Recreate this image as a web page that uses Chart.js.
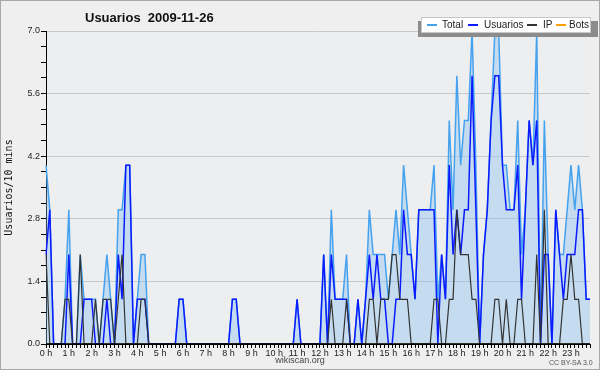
<!DOCTYPE html>
<html>
<head>
<meta charset="utf-8">
<script src="https://cdn.jsdelivr.net/npm/chart.js@4"></script>
<style>
  body { margin: 0; background: #efefef; font-family: 'Liberation Sans', Arial, sans-serif; }
  #wrap { position: relative; width: 600px; height: 370px; }
  #frame { position: absolute; left: 0; top: 0; width: 598px; height: 368px; border: 1px solid #a8a8a8; pointer-events: none; }
  #title { position: absolute; left: 85px; top: 11px; font-weight: bold; font-size: 13px; line-height: 13px; color: #111; white-space: pre; }
  #legendShadow { position: absolute; left: 418px; top: 21px; width: 180px; height: 16px; background: #8c8c8c; }
  #legend { position: absolute; left: 421px; top: 17px; width: 168px; height: 14px; background: #fff; border: 1px solid #c8c8c8; }
  #legend .sw { position: absolute; top: 6px; width: 10px; height: 2px; }
  #legend .tx { position: absolute; top: 2px; font-size: 10px; line-height: 10px; color: #222; white-space: nowrap; }
  #site { position: absolute; left: 0; width: 600px; top: 356px; text-align: center; font-size: 9px; line-height: 9px; color: #444; }
  #lic { position: absolute; left: 549px; top: 359px; font-size: 7px; line-height: 7px; color: #555; }
</style>
</head>
<body>
<div id="wrap">
  <canvas id="usersChart"></canvas>
  <div id="title">Usuarios  2009-11-26</div>
  <div id="legendShadow"></div>
  <div id="legend"></div>
  <div id="site">wikiscan.org</div>
  <div id="lic">CC BY-SA 3.0</div>
  <div id="frame"></div>
</div>
<script>
// 10-minute slots over the day, hour tick labels
const hourLabels = ['0 h','1 h','2 h','3 h','4 h','5 h','6 h','7 h','8 h','9 h','10 h','11 h',
                    '12 h','13 h','14 h','15 h','16 h','17 h','18 h','19 h','20 h','21 h','22 h','23 h'];
const slots = [];
for (let h = 0; h < 24; h++) {
    for (let m = 0; m < 60; m += 10) slots.push(h + ':' + String(m).padStart(2, '0'));
}

const total = [
    4,3,0,0,0,1, 3,0,0,2,1,1, 1,1,0,1,2,1, 0,3,3,4,4,0, 1,2,2,0,0,0,
    0,0,0,0,0,1, 1,0,0,0,0,0, 0,0,0,0,0,0, 0,1,1,0,0,0, 0,0,0,0,0,0,
    0,0,0,0,0,0, 1,0,0,0,0,0, 0,2,0,3,1,1, 1,2,0,0,1,0, 1,3,2,2,2,2,
    1,2,3,2,4,3, 2,1,3,3,3,3, 4,1,2,1,5,3, 6,4,5,5,7,4, 0,2,3,5,7,7,
    4,4,3,3,5,2, 3,5,4,7,0,5, 2,0,3,2,2,3, 4,3,4,3,1,1
];
const usuarios = [
    2,3,0,0,0,0, 2,0,0,0,1,1, 1,0,0,0,1,0, 0,2,1,4,4,0, 1,1,1,0,0,0,
    0,0,0,0,0,1, 1,0,0,0,0,0, 0,0,0,0,0,0, 0,1,1,0,0,0, 0,0,0,0,0,0,
    0,0,0,0,0,0, 1,0,0,0,0,0, 0,2,0,2,1,1, 1,1,0,0,1,0, 1,2,1,2,1,1,
    0,0,1,1,3,2, 2,1,3,3,3,3, 3,0,2,1,4,2, 3,2,3,3,6,3, 0,2,3,5,6,6,
    4,3,3,3,4,1, 3,5,4,5,0,2, 2,0,3,2,1,2, 2,2,3,3,1,1
];
const ip = [
    2,0,0,0,0,1, 1,0,0,2,0,0, 0,1,0,1,1,1, 0,1,2,0,0,0, 0,1,1,0,0,0,
    0,0,0,0,0,0, 0,0,0,0,0,0, 0,0,0,0,0,0, 0,0,0,0,0,0, 0,0,0,0,0,0,
    0,0,0,0,0,0, 0,0,0,0,0,0, 0,0,0,1,0,0, 0,1,0,0,0,0, 0,1,1,0,1,1,
    1,2,2,1,1,1, 0,0,0,0,0,0, 1,1,0,0,1,1, 3,2,2,2,1,1, 0,0,0,0,1,1,
    0,1,0,0,1,1, 0,0,0,2,0,3, 0,0,0,0,1,1, 2,1,1,0,0,0
];
const bots = [
    0,0,0,0,0,0,0,0,0,0,0,0,0,0,0,0,0,0,0,0,0,0,0,0,
    0,0,0,0,0,0,0,0,0,0,0,0,0,0,0,0,0,0,0,0,0,0,0,0,
    0,0,0,0,0,0,0,0,0,0,0,0,0,0,0,0,0,0,0,0,0,0,0,0,
    0,0,0,0,0,0,0,0,0,0,0,0,0,0,0,0,0,0,0,0,0,0,0,0,
    0,0,0,0,0,0,0,0,0,0,0,0,0,0,0,0,0,0,0,0,0,0,0,0,
    0,0,0,0,0,0,0,0,0,0,0,0,0,0,0,0,0,0,0,0,0,0,0,0
];

const colTotal = '#45a2ef';
const colUsers = '#0a1cff';
const colIp = '#333333';
const colBots = '#ffa000';

function isMajor(v) {
    const q = v / 1.4;
    return Math.abs(q - Math.round(q)) < 1e-6;
}

// plot background + axis line redrawn over the zero-valued lines
const framePlugin = {
    id: 'frame',
    beforeDraw(chart) {
        const { ctx, chartArea: a } = chart;
        ctx.save();
        ctx.fillStyle = '#eceef0';
        ctx.fillRect(a.left, a.top, a.right - a.left, a.bottom - a.top);
        ctx.restore();
    },
    afterDatasetsDraw(chart) {
        const { ctx, chartArea: a } = chart;
        ctx.save();
        ctx.strokeStyle = '#000';
        ctx.lineWidth = 1.5;
        ctx.beginPath();
        ctx.moveTo(a.left, a.bottom);
        ctx.lineTo(a.right, a.bottom);
        ctx.stroke();
        ctx.restore();
    }
};

const ctx = document.getElementById('usersChart').getContext('2d');
const chart = new Chart(ctx, {
    type: 'line',
    data: {
        labels: slots,
        datasets: [{
            label: 'Total',
            data: total,
            borderColor: colTotal,
            backgroundColor: 'rgba(125, 187, 240, 0.35)',
            fill: 'origin',
            borderWidth: 1.5,
            order: 3
        }, {
            label: 'Usuarios',
            data: usuarios,
            borderColor: colUsers,
            borderWidth: 1.5,
            fill: false,
            order: 2
        }, {
            label: 'IP',
            data: ip,
            borderColor: colIp,
            borderWidth: 1.2,
            fill: false,
            order: 1
        }, {
            label: 'Bots',
            data: bots,
            borderColor: colBots,
            borderWidth: 1,
            fill: false,
            order: 4
        }]
    },
    options: {
        responsive: true,
        maintainAspectRatio: false,
        animation: false,
        events: [],
        layout: { padding: { top: 31, right: 10, left: 0, bottom: 0 } },
        elements: {
            point: { radius: 0 },
            line: { tension: 0 }
        },
        plugins: {
            legend: { display: false },
            tooltip: { enabled: false }
        },
        scales: {
            x: {
                afterFit: s => { s.height = 26; },
                grid: { drawOnChartArea: false, tickLength: 4, tickColor: '#000', color: '#000' },
                border: { color: '#000' },
                ticks: {
                    autoSkip: false,
                    maxRotation: 0,
                    padding: 0,
                    color: '#222',
                    font: { family: 'Liberation Sans', size: 9 },
                    callback: (v, i) => (i % 6 === 0 ? hourLabels[i / 6] : '')
                }
            },
            y: {
                min: 0,
                max: 7,
                afterFit: s => { s.width = 46; },
                title: {
                    display: true,
                    text: 'Usuarios/10 mins',
                    color: '#111',
                    font: { family: 'DejaVu Sans Mono', size: 10 },
                    padding: { top: 3, bottom: 0 }
                },
                grid: {
                    color: c => (isMajor(c.tick.value) ? '#c9c9c9' : 'rgba(0,0,0,0)'),
                    tickColor: '#000',
                    tickLength: 5
                },
                border: { color: '#000' },
                ticks: {
                    stepSize: 0.35,
                    padding: 1,
                    color: '#222',
                    font: { family: 'Liberation Sans', size: 9 },
                    callback: v => (isMajor(v) ? v.toFixed(1) : '')
                }
            }
        }
    },
    plugins: [framePlugin]
});

// Legend built from the datasets (swatch and text offsets inside the box)
const swatchX = [5, 46, 105, 134];
const textX = [20, 62, 121, 147];
const legend = document.getElementById('legend');
chart.data.datasets.forEach((ds, i) => {
    legend.innerHTML += '<span class="sw" style="left:' + swatchX[i] + 'px;background:' + ds.borderColor + '"></span>' +
        '<span class="tx" style="left:' + textX[i] + 'px">' + ds.label + '</span>';
});
</script>
</body>
</html>
